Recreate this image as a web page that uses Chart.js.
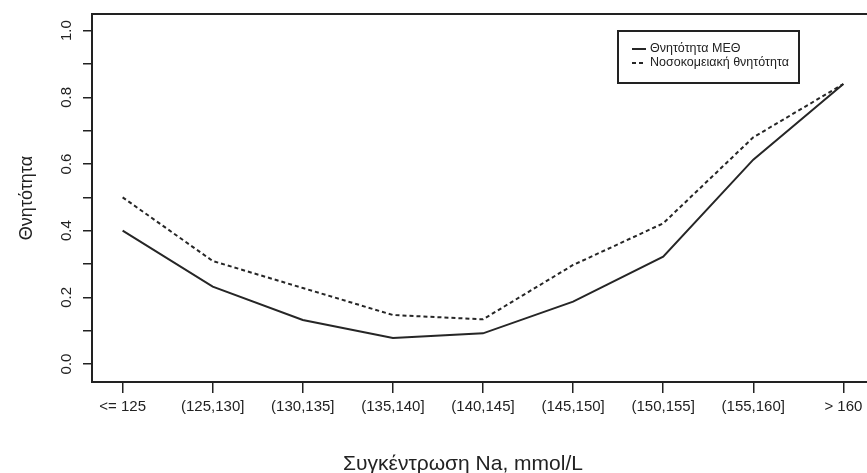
<!DOCTYPE html>
<html>
<head>
<meta charset="utf-8">
<script src="https://cdn.jsdelivr.net/npm/chart.js@4.4.1/dist/chart.umd.min.js"></script>
<style>
  html, body { margin:0; padding:0; background:#fff; overflow:hidden; }
  #wrap { width:867px; height:473px; overflow:hidden; }
</style>
</head>
<body>
<div id="wrap"><canvas id="grafico" width="880" height="473"></canvas></div>
<script>
// Fasce di sodio e mortalità
const categorie = ['<= 125', '(125,130]', '(130,135]', '(135,140]', '(140,145]', '(145,150]', '(150,155]', '(155,160]', '> 160'];
const mortMEO = [0.40, 0.232, 0.132, 0.078, 0.092, 0.187, 0.322, 0.613, 0.84];
const mortOsp = [0.50, 0.309, 0.228, 0.147, 0.134, 0.297, 0.422, 0.68, 0.84];
const yTicks = [0, 0.1, 0.2, 0.3, 0.4, 0.5, 0.6, 0.7, 0.8, 0.9, 1.0];
const yEtichette = [[0, '0.0'], [0.2, '0.2'], [0.4, '0.4'], [0.6, '0.6'], [0.8, '0.8'], [1.0, '1.0']];
const legendaTesti = ['Θνητότητα ΜΕΘ', 'Νοσοκομειακή θνητότητα'];
const titoloX = 'Συγκέντρωση Na, mmol/L';
const titoloY = 'Θνητότητα';

const INK = '#222';
const FONT = '"Liberation Sans", Arial, sans-serif';

// riquadro, etichette y verticali, titolo x e legenda
const cornice = {
  id: 'cornice',
  afterDraw(chart) {
    const { ctx, chartArea: a, scales: { y } } = chart;
    ctx.save();
    ctx.strokeStyle = INK;
    ctx.lineWidth = 2;
    ctx.strokeRect(a.left, a.top, a.right - a.left, a.bottom - a.top);

    ctx.fillStyle = INK;
    ctx.font = '15px ' + FONT;
    ctx.textAlign = 'center';
    ctx.textBaseline = 'middle';
    yEtichette.forEach(([v, t]) => {
      ctx.save();
      ctx.translate(67, y.getPixelForValue(v));
      ctx.rotate(-Math.PI / 2);
      ctx.fillText(t, 0, 0);
      ctx.restore();
    });

    ctx.font = '21px ' + FONT;
    ctx.textBaseline = 'alphabetic';
    ctx.fillText(titoloX, 463, 470);

    // legenda
    ctx.lineWidth = 2;
    ctx.strokeRect(618, 31, 181, 52);
    ctx.font = '12.5px ' + FONT;
    ctx.textAlign = 'left';
    ctx.textBaseline = 'middle';
    chart.data.datasets.forEach((ds, i) => {
      const yy = 49 + i * 14;
      ctx.beginPath();
      ctx.setLineDash(ds.borderDash || []);
      ctx.lineWidth = 2;
      ctx.strokeStyle = ds.borderColor;
      ctx.moveTo(632, yy);
      ctx.lineTo(646, yy);
      ctx.stroke();
      ctx.setLineDash([]);
      ctx.fillText(legendaTesti[i], 650, yy);
    });
    ctx.restore();
  }
};

new Chart(document.getElementById('grafico'), {
  type: 'line',
  data: {
    datasets: [
      { label: legendaTesti[0], data: mortMEO.map((v, i) => ({ x: i, y: v })),
        borderColor: '#262626', borderWidth: 2, pointRadius: 0, tension: 0 },
      { label: legendaTesti[1], data: mortOsp.map((v, i) => ({ x: i, y: v })),
        borderColor: '#262626', borderWidth: 2, borderDash: [4, 3], pointRadius: 0, tension: 0 }
    ]
  },
  options: {
    responsive: false,
    animation: false,
    layout: { padding: { left: 0, top: 14, right: 6, bottom: 0 } },
    plugins: { legend: { display: false }, tooltip: { enabled: false } },
    scales: {
      x: {
        type: 'linear',
        min: -0.34,
        max: 8.34,
        afterBuildTicks: s => { s.ticks = categorie.map((_, i) => ({ value: i })); },
        afterFit: s => { s.height = 91; s.paddingLeft = 0; s.paddingRight = 0; },
        ticks: {
          autoSkip: false, maxRotation: 0, color: INK, padding: 5,
          font: { family: FONT, size: 15 },
          callback: v => categorie[v]
        },
        grid: { drawOnChartArea: false, drawTicks: true, tickLength: 11, color: INK, lineWidth: 1.5 },
        border: { display: false }
      },
      y: {
        min: -0.054,
        max: 1.05,
        afterBuildTicks: s => { s.ticks = yTicks.map(v => ({ value: v })); },
        afterFit: s => { s.width = 92; s.paddingTop = 0; s.paddingBottom = 0; },
        ticks: { display: false },
        grid: { drawOnChartArea: false, drawTicks: true, tickLength: 9, color: INK, lineWidth: 1.5 },
        border: { display: false },
        title: {
          display: true, text: titoloY, color: INK,
          font: { family: FONT, size: 18 },
          padding: { top: 16, bottom: 0 }
        }
      }
    }
  },
  plugins: [cornice]
});
</script>
</body>
</html>
